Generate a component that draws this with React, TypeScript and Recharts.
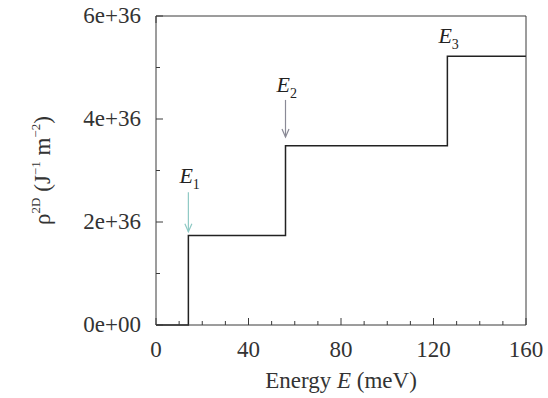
import { LineChart, Line, XAxis, YAxis, ReferenceLine, ReferenceDot } from 'recharts';

// step density of states for a 2D well, energies in meV
const energies = [0, 14, 14, 56, 56, 126, 126, 160];
const density = [0, 0, 1.74e36, 1.74e36, 3.48e36, 3.48e36, 5.22e36, 5.22e36];

const xTicks = [0, 10, 20, 30, 40, 50, 60, 70, 80, 90, 100, 110, 120, 130, 140, 150, 160];
const yTicks = [0, 1e36, 2e36, 3e36, 4e36, 5e36, 6e36];

// subband edges: name, energy, arrow top/bottom, label height
const levels = ['1', '2', '3'];
const levelEnergy = [14, 56, 126];
const arrowTop = [2.58e36, 4.37e36, null];
const arrowBottom = [1.81e36, 3.65e36, null];
const labelHeight = [2.76e36, 4.52e36, 5.48e36];
const arrowColors = ['#8ec9c4', '#8a8a96', '#888'];

const data = energies.map((e, i) => ({ e, rho: density[i] }));

const FONT = '"Liberation Serif", "Times New Roman", serif';
const AXIS = '#3a3a3a';
const TEXT_SIZE = 23;

const fmtY = (v: number) => (v === 0 ? '0e+00' : `${Math.round(v / 1e36)}e+36`);

function BottomTick(props: any) {
  const { x, y, payload } = props;
  const major = payload.value % 40 === 0;
  return (
    <g>
      <line x1={x} y1={y} x2={x} y2={y - (major ? 7 : 4)} stroke={AXIS} />
      {major && (
        <text x={x} y={y + 32} textAnchor="middle" fontFamily={FONT} fontSize={TEXT_SIZE} fill="#333">
          {payload.value}
        </text>
      )}
    </g>
  );
}

function TopTick(props: any) {
  const { x, y, payload } = props;
  const major = payload.value % 40 === 0;
  return <line x1={x} y1={y} x2={x} y2={y + (major ? 7 : 4)} stroke={AXIS} />;
}

function LeftTick(props: any) {
  const { x, y, payload, index } = props;
  const major = index % 2 === 0;
  return (
    <g>
      <line x1={x} y1={y} x2={x + (major ? 7 : 4)} y2={y} stroke={AXIS} />
      {major && (
        <text x={x - 15} y={y + 7} textAnchor="end" fontFamily={FONT} fontSize={TEXT_SIZE} fill="#333">
          {fmtY(payload.value)}
        </text>
      )}
    </g>
  );
}

function RightTick(props: any) {
  const { x, y, index } = props;
  const major = index % 2 === 0;
  return <line x1={x} y1={y} x2={x - (major ? 7 : 4)} y2={y} stroke={AXIS} />;
}

function arrowShape(color: string) {
  return (props: any) => {
    const { x1, y1, x2, y2 } = props;
    return (
      <g stroke={color} strokeWidth={1.2} fill="none">
        <line x1={x1} y1={y1} x2={x2} y2={y2} />
        <polyline points={`${x2 - 3.5},${y2 - 8} ${x2},${y2} ${x2 + 3.5},${y2 - 8}`} />
      </g>
    );
  };
}

function levelLabel(sub: string) {
  return (props: any) => (
    <text x={props.cx - 9} y={props.cy} fontFamily={FONT} fill="#222">
      <tspan fontSize={22} fontStyle="italic">E</tspan>
      <tspan fontSize={14} dy={6}>{sub}</tspan>
    </text>
  );
}

function YTitle(props: any) {
  const vb = props.viewBox;
  const cx = 50;
  const cy = vb.y + vb.height / 2;
  return (
    <text
      x={cx}
      y={cy}
      transform={`rotate(-90, ${cx}, ${cy})`}
      textAnchor="middle"
      fontFamily={FONT}
      fontSize={TEXT_SIZE}
      fill="#333"
    >
      ρ<tspan fontSize={13} dy={-10}>2D</tspan>
      <tspan dy={10}> (J</tspan>
      <tspan fontSize={13} dy={-10}>−1</tspan>
      <tspan dy={10}> m</tspan>
      <tspan fontSize={13} dy={-10}>−2</tspan>
      <tspan dy={10}>)</tspan>
    </text>
  );
}

export default function App() {
  return (
    <div style={{ width: 548, height: 398, background: '#fff' }}>
      <style>{'body{margin:0}'}</style>
      <LineChart width={548} height={398} data={data} margin={{ top: 0, right: 0, bottom: 0, left: 0 }}>
        <XAxis
          dataKey="e"
          type="number"
          domain={[0, 160]}
          ticks={xTicks}
          interval={0}
          height={73}
          tickSize={0}
          tickMargin={0}
          tickLine={false}
          tick={<BottomTick />}
          axisLine={{ stroke: AXIS }}
          label={{
            value: 'Energy E (meV)',
            content: (p: any) => (
              <text
                x={p.viewBox.x + p.viewBox.width / 2}
                y={p.viewBox.y + 63}
                textAnchor="middle"
                fontFamily={FONT}
                fontSize={TEXT_SIZE}
                fill="#333"
              >
                Energy <tspan fontStyle="italic">E</tspan> (meV)
              </text>
            ),
          }}
        />
        <XAxis
          xAxisId="top"
          orientation="top"
          type="number"
          domain={[0, 160]}
          ticks={xTicks}
          interval={0}
          height={16}
          tickSize={0}
          tickMargin={0}
          tickLine={false}
          tick={<TopTick />}
          axisLine={{ stroke: AXIS }}
        />
        <YAxis
          type="number"
          domain={[0, 6e36]}
          ticks={yTicks}
          interval={0}
          width={156}
          tickSize={0}
          tickMargin={0}
          tickLine={false}
          tick={<LeftTick />}
          axisLine={{ stroke: AXIS }}
          label={{ value: 'rho', content: (p: any) => <YTitle {...p} /> }}
        />
        <YAxis
          yAxisId="right"
          orientation="right"
          type="number"
          domain={[0, 6e36]}
          ticks={yTicks}
          interval={0}
          width={22}
          tickSize={0}
          tickMargin={0}
          tickLine={false}
          tick={<RightTick />}
          axisLine={{ stroke: AXIS }}
        />
        <Line
          type="linear"
          dataKey="rho"
          stroke="#222"
          strokeWidth={1.5}
          dot={false}
          isAnimationActive={false}
        />
        {levels.map((name, i) =>
          arrowTop[i] !== null ? (
            <ReferenceLine
              key={`arrow-${name}`}
              segment={[
                { x: levelEnergy[i], y: arrowTop[i] as number },
                { x: levelEnergy[i], y: arrowBottom[i] as number },
              ]}
              shape={arrowShape(arrowColors[i])}
            />
          ) : null,
        )}
        {levels.map((name, i) => (
          <ReferenceDot
            key={`label-${name}`}
            x={levelEnergy[i]}
            y={labelHeight[i]}
            r={0}
            shape={levelLabel(name)}
          />
        ))}
      </LineChart>
    </div>
  );
}
